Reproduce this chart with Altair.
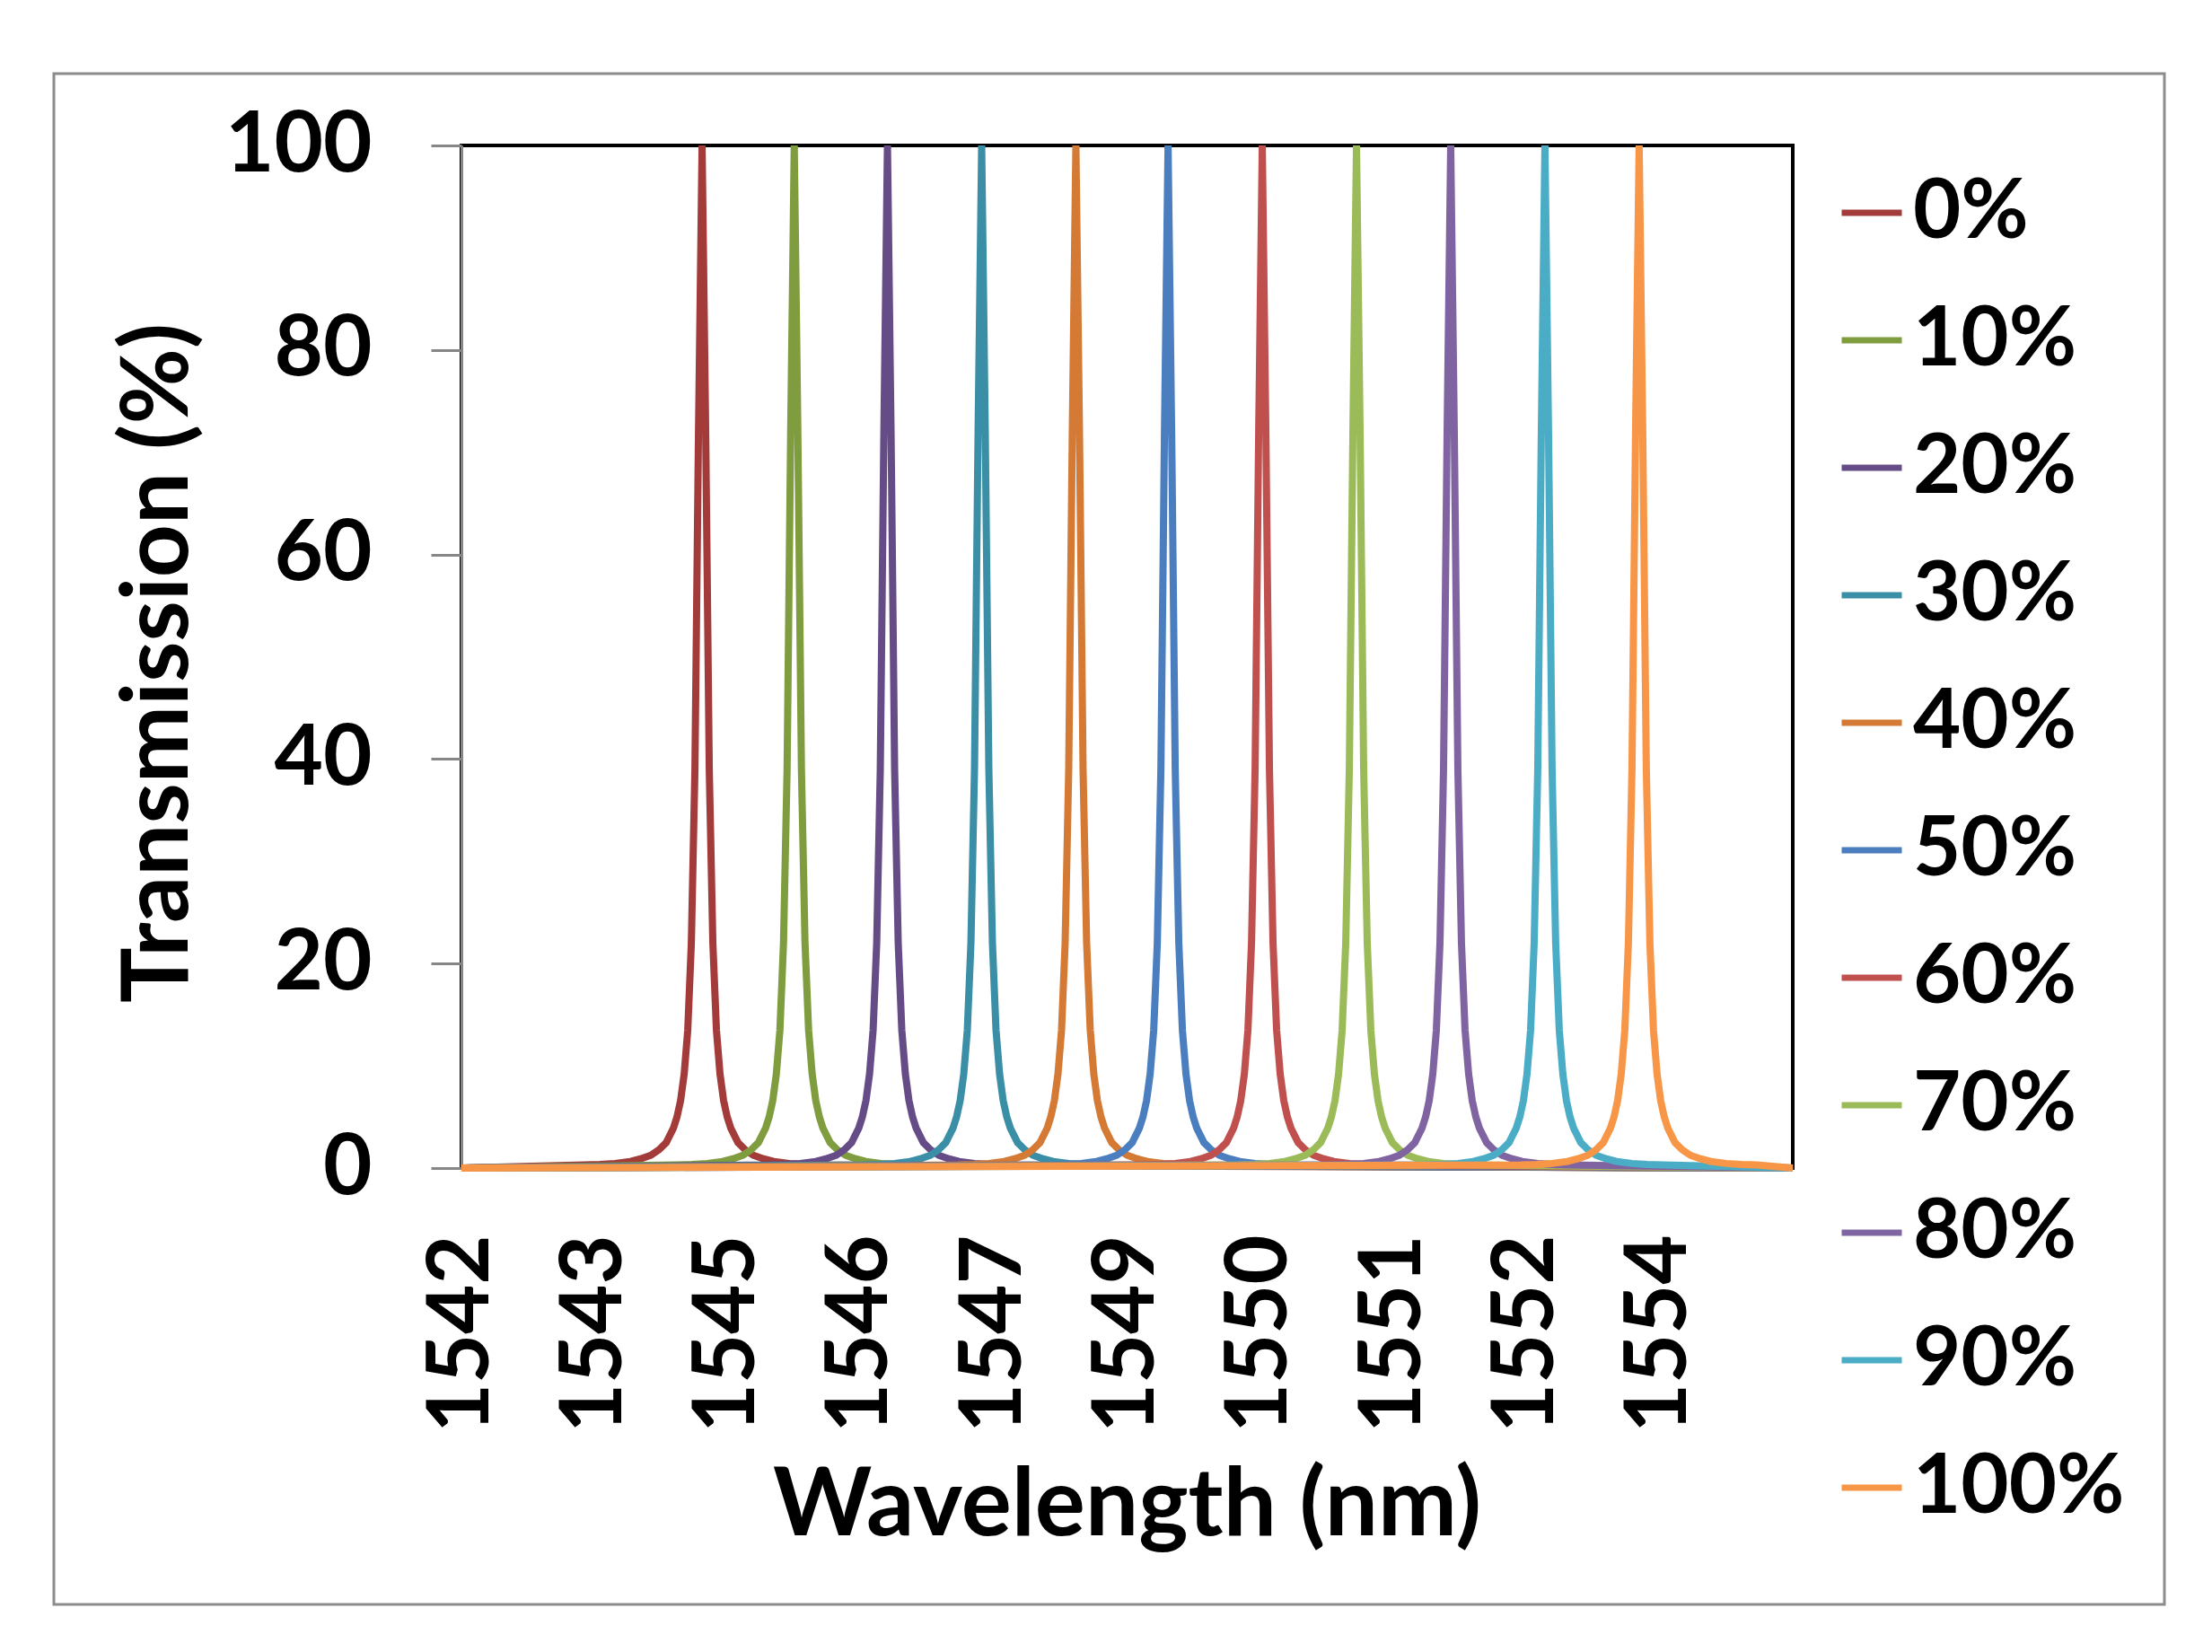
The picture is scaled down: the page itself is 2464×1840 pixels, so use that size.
import altair as alt
import pandas as pd

# Series (legend order) and peak centre wavelengths (nm)
series = ["0%", "10%", "20%", "30%", "40%", "50%", "60%", "70%", "80%", "90%", "100%"]
centers = [1544.35, 1545.25, 1546.16, 1547.08, 1548.00, 1548.90, 1549.82, 1550.74, 1551.66, 1552.58, 1553.50]
colors = ["#A23B39", "#7F9D3F", "#654C86", "#3A8EA5", "#D47A34", "#4A7EBF",
          "#C0504D", "#9BBB59", "#8064A2", "#4BACC6", "#F79646"]

# Transmission profile around each peak (offset in nm, transmission %)
profile_offset = [0.0, 0.035, 0.07, 0.105, 0.14, 0.175, 0.21, 0.245, 0.28, 0.35, 0.42, 0.5, 0.6, 0.7, 0.85, 1.0, 1.15]
profile_value = [100.0, 72.0, 39.0, 22.0, 13.5, 9.2, 6.6, 5.0, 3.9, 2.5, 1.8, 1.25, 0.9, 0.65, 0.45, 0.35, 0.3]

x_start, x_end = 1542.0, 1555.0

# Category-style tick labels of the original (Excel) axis
tick_values = [1542.0, 1543.3, 1544.6, 1545.9, 1547.2, 1548.5, 1549.8, 1551.1, 1552.4, 1553.7]
tick_labels = ["1542", "1543", "1545", "1546", "1547", "1549", "1550", "1551", "1552", "1554"]

rows = []
for k, (name, c) in enumerate(zip(series, centers)):
    pts = [(x_start, 0.0)]
    for off, val in zip(reversed(profile_offset[1:]), reversed(profile_value[1:])):
        pts.append((c - off, val))
    pts.append((c, profile_value[0]))
    for off, val in zip(profile_offset[1:], profile_value[1:]):
        pts.append((c + off, val))
    pts.append((x_end, 0.0))
    for i, (x, y) in enumerate(pts):
        rows.append({"wl": round(x, 4), "T": y, "series": name, "order": k, "i": i})
df = pd.DataFrame(rows)

label_expr = ""
for v, lab in zip(tick_values, tick_labels):
    label_expr += f"abs(datum.value - {v}) < 0.01 ? '{lab}' : "
label_expr += "''"

FONT = "Lato"
PW, PH = 1483, 1139

lines = alt.Chart(df).mark_line(strokeWidth=8, clip=False).encode(
    x=alt.X("wl:Q",
            scale=alt.Scale(domain=[x_start, x_end], nice=False, zero=False),
            axis=alt.Axis(values=tick_values, labelExpr=label_expr, labelAngle=270,
                          labelAlign="right", labelBaseline="middle", labelPadding=74,
                          labelFontSize=95, labelFont=FONT, labelFontWeight="bold",
                          labelColor="black", labelLimit=0, ticks=False, grid=False,
                          domainColor="#868686", domainWidth=3,
                          title="Wavelength (nm)", titleFont=FONT, titleFontSize=105,
                          titleFontWeight="bold", titleColor="black",
                          titleX=741, titleY=376, titleAlign="center",
                          titleBaseline="middle", titleLimit=0,
                          labelOverlap=False, labelFlush=False)),
    y=alt.Y("T:Q",
            scale=alt.Scale(domain=[0, 100], nice=False),
            axis=alt.Axis(values=[0, 20, 40, 60, 80, 100], labelFontSize=94, labelFont=FONT,
                          labelFontWeight="bold", labelColor="black", labelPadding=66,
                          labelLimit=0, tickSize=34, tickWidth=3, tickColor="#868686",
                          domainColor="#868686", domainWidth=3, grid=False,
                          title="Transmission (%)", titleFont=FONT, titleFontSize=103,
                          titleFontWeight="bold", titleColor="black", titleAngle=270,
                          titleX=-337, titleY=576, titleAlign="center",
                          titleBaseline="middle", titleLimit=0, labelFlush=False)),
    color=alt.Color("series:N",
                    scale=alt.Scale(domain=series, range=colors),
                    sort=series,
                    legend=alt.Legend(orient="none", legendX=1525, legendY=29, title=None,
                                      symbolType="stroke", symbolSize=4489,
                                      symbolStrokeWidth=7, labelFont=FONT,
                                      labelFontSize=92, labelFontWeight="bold",
                                      labelColor="black", labelOffset=0, labelLimit=0,
                                      rowPadding=50, padding=0)),
    order=alt.Order("i:Q"),
    detail="series:N",
)

frame = alt.Chart(pd.DataFrame({"a": [0]})).mark_rect(
    fill=None, stroke="#8c8c8c", strokeWidth=3
).encode(
    x=alt.value(-454), x2=alt.value(1897), y=alt.value(-80), y2=alt.value(1625)
)

chart = alt.layer(frame, lines).properties(
    width=PW, height=PH,
    autosize=alt.AutoSizeParams(type="none"),
    padding={"left": 506, "top": 154, "right": 440, "bottom": 510},
    background="white",
).configure_view(stroke="black", strokeWidth=4)

chart.save("out.html", embed_options={"renderer": "svg", "actions": False})
